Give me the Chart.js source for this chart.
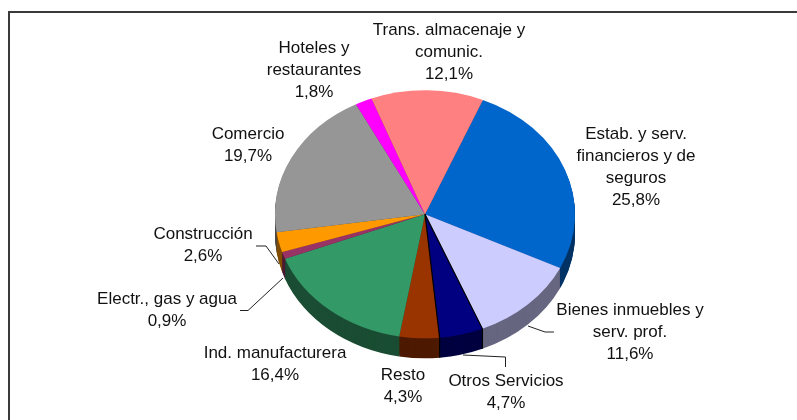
<!DOCTYPE html>
<html><head><meta charset="utf-8">
<style>html,body{margin:0;padding:0;background:#fff}canvas{display:block}</style>
<script src="https://cdn.jsdelivr.net/npm/chart.js@4"></script>
</head><body>
<canvas id="c" width="797" height="420"></canvas>
<script>
const categories = [
  ["Estab. y serv.","financieros y de","seguros"],
  ["Bienes inmuebles y","serv. prof."],
  ["Otros Servicios"],
  ["Resto"],
  ["Ind. manufacturera"],
  ["Electr., gas y agua"],
  ["Construcción"],
  ["Comercio"],
  ["Hoteles y","restaurantes"],
  ["Trans. almacenaje y","comunic."]
];
const shares = [25.8, 11.6, 4.7, 4.3, 16.4, 0.9, 2.6, 19.7, 1.8, 12.1];
const faceColors = ["#0066CC","#CCCCFF","#000080","#993300","#339966","#993366","#FF9900","#969696","#FF00FF","#FF8080"];
const sideColors = ["#003366","#666680","#000040","#4D1A00","#1A4D33","#4D1A33","#804D00","#4B4B4B","#800080","#804040"];
const firstSliceAngle = 22.7;

// layout of the annotations (centre x, first line middle y)
const labelAnchors = [[636,134],[630,310],[506,381],[403,375],[275,353],[167,299],[203,234],[248,134],[314,48],[449,30]];
const leaderLines = [
  [[528,326],[545,332],[554,332]],
  [[463,355],[505.5,357],[505.5,367]],
  [[283,278],[248,310.5],[240,310.5]],
  [[256,246],[266,246],[279,264]]
];
const CX = 425, CY = 214.3, TILT = 124/150, DEPTH = 20, LINE = 22;

const tilted = {
  id: 'tilted',
  beforeDatasetsDraw(chart) {
    const ctx = chart.ctx, arcs = chart.getDatasetMeta(0).data;
    ctx.save();
    ctx.fillStyle = '#fff';
    ctx.fillRect(0,0,chart.width,chart.height);
    const a0 = arcs[0];
    for (let d = DEPTH; d >= 1; d--) {
      ctx.save();
      ctx.translate(CX, CY + d); ctx.scale(1, TILT); ctx.translate(-a0.x, -a0.y);
      arcs.forEach((a, i) => {
        ctx.fillStyle = sideColors[i];
        ctx.beginPath(); ctx.moveTo(a.x, a.y);
        ctx.arc(a.x, a.y, a.outerRadius, a.startAngle, a.endAngle);
        ctx.closePath(); ctx.fill();
      });
      ctx.restore();
    }
    ctx.restore();
    ctx.save();
    ctx.translate(CX, CY); ctx.scale(1, TILT); ctx.translate(-a0.x, -a0.y);
  },
  afterDatasetsDraw(chart) {
    const ctx = chart.ctx, arcs = chart.getDatasetMeta(0).data;
    ctx.restore();
    // dark edges around the navy slice
    const navy = arcs[2];
    ctx.save();
    ctx.strokeStyle = '#000'; ctx.lineWidth = 1.2;
    [navy.startAngle, navy.endAngle].forEach(t => {
      const ex = CX + navy.outerRadius * Math.cos(t);
      const ey = CY + navy.outerRadius * TILT * Math.sin(t);
      ctx.beginPath(); ctx.moveTo(CX, CY); ctx.lineTo(ex, ey); ctx.lineTo(ex, ey + DEPTH); ctx.stroke();
    });
    ctx.restore();
    // frame
    ctx.save();
    ctx.strokeStyle = '#3a3a3a'; ctx.lineWidth = 2;
    ctx.beginPath(); ctx.moveTo(9, 420); ctx.lineTo(9, 12); ctx.lineTo(797, 12); ctx.stroke();
    // leaders
    ctx.strokeStyle = '#222'; ctx.lineWidth = 1;
    leaderLines.forEach(pts => {
      ctx.beginPath();
      pts.forEach((p, i) => i ? ctx.lineTo(p[0], p[1]) : ctx.moveTo(p[0], p[1]));
      ctx.stroke();
    });
    // labels
    ctx.fillStyle = '#111';
    ctx.font = '17px "Liberation Sans", Arial, sans-serif';
    ctx.textAlign = 'center'; ctx.textBaseline = 'middle';
    categories.forEach((lines, i) => {
      const [x, y] = labelAnchors[i];
      const pct = shares[i].toFixed(1).replace('.', ',') + '%';
      lines.concat([pct]).forEach((t, k) => ctx.fillText(t, x, y + k * LINE));
    });
    ctx.restore();
  }
};

new Chart(document.getElementById('c'), {
  type: 'pie',
  data: {
    labels: categories.map(l => l.join(' ')),
    datasets: [{ data: shares, backgroundColor: faceColors, borderWidth: 0 }]
  },
  options: {
    responsive: false, animation: false,
    rotation: firstSliceAngle,
    layout: { padding: { left: 275, right: 222, top: 60, bottom: 60 } },
    plugins: { legend: { display: false }, tooltip: { enabled: false } }
  },
  plugins: [tilted]
});
</script>
</body></html>
